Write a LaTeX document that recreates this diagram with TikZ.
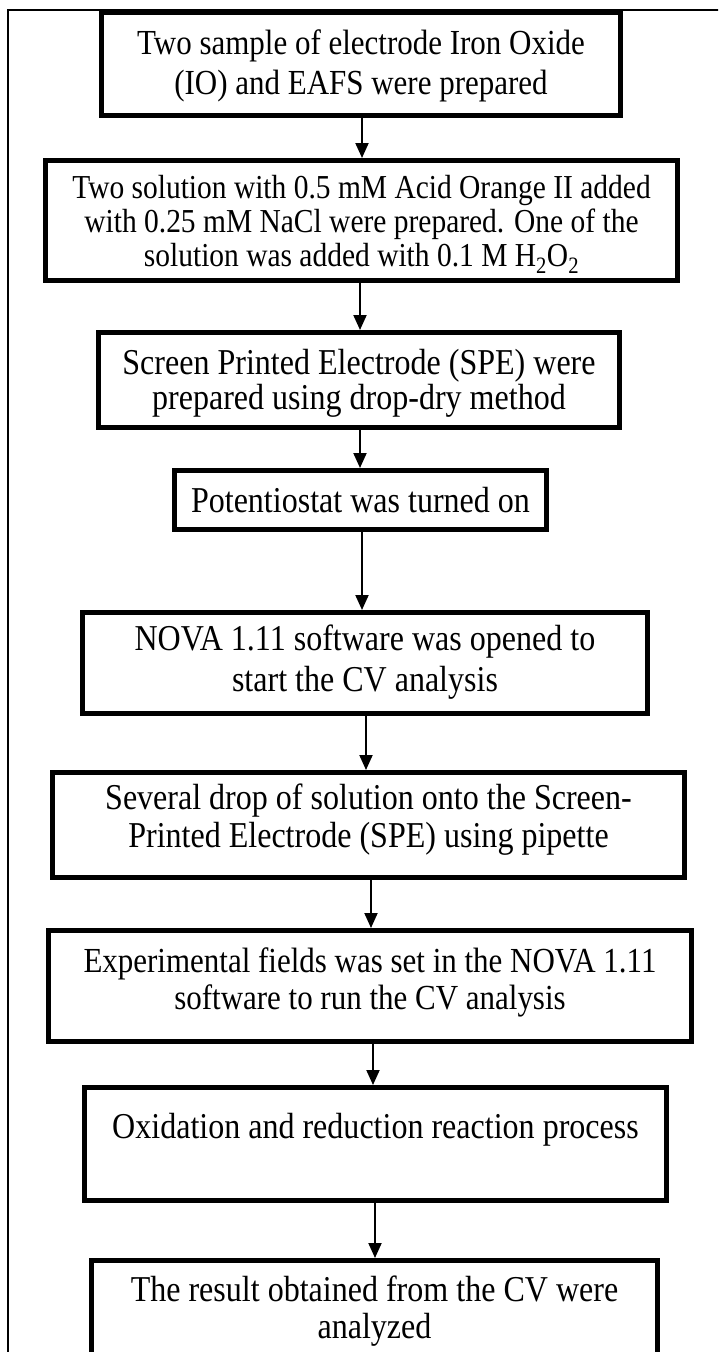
\documentclass[tikz,border=0pt]{standalone}
\usepackage{fontspec}
\setmainfont[FakeStretch=0.88]{Liberation Serif}
\usetikzlibrary{arrows.meta}
\begin{document}
\begin{tikzpicture}[x=1pt,y=-1pt,
  box/.style={draw, line width=5pt, rectangle, inner sep=0pt},
  txt/.style={align=center, inner sep=0pt, font=\fontsize{36.4}{36}\selectfont},
  arr/.style={line width=2pt, -{Triangle[length=15pt,width=13pt]}}]
\clip (0,0) rectangle (718,1352);
\fill[white] (0,0) rectangle (718,1352);
% outer frame
\draw[line width=2pt] (8,1400) -- (8,10) -- (730,10);

% process boxes
\node[box, minimum width=519pt, minimum height=103pt] (b1) at (361,64) {};
\node[box, minimum width=632pt, minimum height=120pt] (b2) at (361.5,220.5) {};
\node[box, minimum width=521pt, minimum height=95pt]  (b3) at (359,380) {};
\node[box, minimum width=372pt, minimum height=59pt]  (b4) at (360.5,500) {};
\node[box, minimum width=565pt, minimum height=101pt] (b5) at (365,663) {};
\node[box, minimum width=632pt, minimum height=105pt] (b6) at (368.5,825) {};
\node[box, minimum width=643pt, minimum height=111pt] (b7) at (370,986) {};
\node[box, minimum width=582pt, minimum height=113pt] (b8) at (375.5,1144) {};
\node[box, minimum width=566pt, minimum height=107pt] (b9) at (374.5,1314) {};

% box texts
\node[txt, font=\fontsize{35.2}{40}\selectfont] (t1) at (361,66)
  {Two sample of electrode Iron Oxide\\(IO) and EAFS were prepared};
\node[txt, font=\fontsize{33.5}{34}\selectfont] (t2) at (361.5,224)
  {Two solution with 0.5 mM Acid Orange II added\\with 0.25 mM NaCl were prepared. One of the\\solution was added with 0.1 M H\textsubscript{2}O\textsubscript{2}};
\node[txt, font=\fontsize{36.4}{35}\selectfont] (t3) at (359,383)
  {Screen Printed Electrode (SPE) were\\prepared using drop-dry method};
\node[txt] (t4) at (360.5,500) {Potentiostat was turned on};
\node[txt, font=\fontsize{36.4}{41}\selectfont] (t5) at (365,662)
  {NOVA 1.11 software was opened to\\start the CV analysis};
\node[txt, font=\fontsize{36.4}{38}\selectfont] (t6) at (368.5,820)
  {Several drop of solution onto the Screen-\\Printed Electrode (SPE) using pipette};
\node[txt, font=\fontsize{35.2}{37}\selectfont] (t7) at (370,982)
  {Experimental fields was set in the NOVA 1.11\\software to run the CV analysis};
\node[txt] (t8) at (375.5,1130) {Oxidation and reduction reaction process};
\node[txt, font=\fontsize{36.4}{37}\selectfont] (t9) at (374.5,1311)
  {The result obtained from the CV were\\analyzed};

% connectors
\draw[arr] ([xshift=1pt]b1.south)   -- ([xshift=0.5pt]b2.north);
\draw[arr] ([xshift=-1.5pt]b2.south) -- ([xshift=1pt]b3.north);
\draw[arr] ([xshift=1pt]b3.south)   -- ([xshift=-0.5pt]b4.north);
\draw[arr] ([xshift=1.5pt]b4.south) -- ([xshift=-3pt]b5.north);
\draw[arr] ([xshift=1pt]b5.south)   -- ([xshift=-2.5pt]b6.north);
\draw[arr] ([xshift=2.5pt]b6.south) -- ([xshift=1pt]b7.north);
\draw[arr] ([xshift=3pt]b7.south)   -- ([xshift=-2.5pt]b8.north);
\draw[arr] ([xshift=-0.5pt]b8.south) -- ([xshift=0.5pt]b9.north);
\end{tikzpicture}
\end{document}
